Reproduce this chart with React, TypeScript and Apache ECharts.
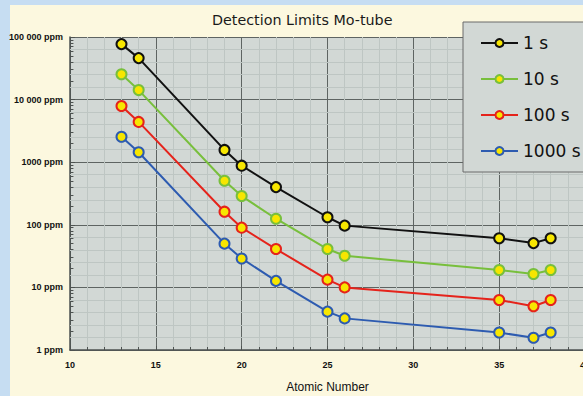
import React, { useEffect, useRef } from "react";
import * as echarts from "echarts";

const atomicNumbers = [13, 14, 19, 20, 22, 25, 26, 35, 37, 38];
const seriesNames = ["1 s", "10 s", "100 s", "1000 s"];
const values1s = [77000, 46000, 1570, 880, 400, 132, 97, 61, 51, 61];
const values10s = [25400, 14200, 505, 288, 125, 41, 32, 19, 16.4, 19];
const values100s = [7900, 4400, 162, 90, 41, 13.3, 10, 6.3, 5.0, 6.3];
const values1000s = [2550, 1440, 50, 29, 12.7, 4.1, 3.2, 1.9, 1.57, 1.9];
const yTickLabels = ["1 ppm", "10 ppm", "100 ppm", "1000 ppm", "10 000 ppm", "100 000 ppm"];
const xTickLabels = ["10", "15", "20", "25", "30", "35", "40"];
const seriesColors = ["#111111", "#78bf3c", "#e5231b", "#2d5bb0"];

export default function App() {
  const ref = useRef<HTMLDivElement>(null);
  useEffect(() => {
    if (!ref.current) return;
    const chart = echarts.init(ref.current, undefined, { renderer: "svg" });
    const allValues = [values1s, values10s, values100s, values1000s];
    const paperVals: number[] = [];
    const tickVals: number[] = [];
    for (let d = 0; d < yTickLabels.length - 1; d++) {
      for (let k = 1; k < 5; k++) paperVals.push(Math.pow(10, d + k / 5));
      for (let m = 2; m <= 9; m++) tickVals.push(m * Math.pow(10, d));
    }
    const dataSeries = allValues.map((vals, i) => ({
      name: seriesNames[i],
      type: "line",
      z: 5,
      data: atomicNumbers.map((x, j) => [x, vals[j]]),
      symbol: "circle",
      symbolSize: 10,
      lineStyle: { color: seriesColors[i], width: 2 },
      itemStyle: { color: "#f7e600", borderColor: seriesColors[i], borderWidth: 2 },
      color: seriesColors[i],
    }));
    chart.setOption({
      animation: false,
      backgroundColor: "transparent",
      title: {
        text: "Detection Limits Mo-tube",
        left: 207,
        top: 8,
        textStyle: { fontFamily: "DejaVu Sans", fontSize: 14.3, fontWeight: "normal", color: "#1a1a1a" },
      },
      legend: {
        data: seriesNames,
        orient: "vertical",
        left: 463,
        top: 22,
        z: 20,
        padding: [11, 40, 11, 17],
        itemGap: 16,
        itemWidth: 37,
        itemHeight: 10,
        backgroundColor: "#d2d8d5",
        borderColor: "#6a6a6a",
        borderWidth: 1,
        textStyle: { fontFamily: "DejaVu Sans", fontSize: 17, color: "#111", lineHeight: 20 },
      },
      grid: {
        left: 70,
        top: 37,
        width: 515,
        height: 313,
        show: true,
        backgroundColor: "#d2d8d5",
        borderWidth: 0,
        outerBoundsMode: "none",
        containLabel: false,
      },
      xAxis: {
        type: "value",
        min: 10,
        max: 40,
        interval: 5,
        name: "Atomic Number",
        nameLocation: "middle",
        nameGap: 31,
        nameTextStyle: { fontFamily: "Liberation Sans", fontSize: 12, color: "#111" },
        axisLine: { show: true, lineStyle: { color: "#4d5250", width: 1.5 } },
        axisTick: { show: true, inside: true, length: 4, lineStyle: { color: "#4d5250" } },
        minorTick: { show: true, splitNumber: 5, length: 3, lineStyle: { color: "#4d5250" } },
        axisLabel: {
          margin: 10,
          fontFamily: "Liberation Sans",
          fontSize: 9,
          fontWeight: "bold",
          color: "#111",
          formatter: (v: number) => xTickLabels[Math.round((v - 10) / 5)] ?? "",
        },
        splitLine: { show: true, lineStyle: { color: "#5e6462", width: 1 } },
        minorSplitLine: { show: true, lineStyle: { color: "#bec6c3", width: 1 } },
      },
      yAxis: {
        type: "log",
        logBase: 10,
        min: 1,
        max: 100000,
        axisLine: { show: true, lineStyle: { color: "#4d5250", width: 1.5 } },
        axisTick: { show: true, inside: true, length: 5, lineStyle: { color: "#4d5250" } },
        axisLabel: {
          margin: 7,
          fontFamily: "Liberation Sans",
          fontSize: 9,
          fontWeight: "bold",
          color: "#111",
          formatter: (v: number) => yTickLabels[Math.round(Math.log10(v))] ?? "",
        },
        splitLine: { show: true, lineStyle: { color: "#5e6462", width: 1 } },
      },
      series: [
        {
          name: "paper",
          type: "line",
          data: [],
          z: 1,
          silent: true,
          markLine: {
            silent: true,
            symbol: "none",
            label: { show: false },
            lineStyle: { color: "#bec6c3", width: 1, type: "solid" },
            data: paperVals.map((v) => ({ yAxis: v })),
          },
        },
        {
          name: "ticks",
          type: "line",
          data: [],
          z: 2,
          silent: true,
          markLine: {
            silent: true,
            symbol: "none",
            label: { show: false },
            lineStyle: { color: "#4d5250", width: 1, type: "solid" },
            data: tickVals.map((v) => [{ coord: [10, v] }, { coord: [10.2, v] }]),
          },
        },
        ...dataSeries,
      ],
    });
    return () => chart.dispose();
  }, []);
  return (
    <div style={{ position: "fixed", left: 0, top: 0, width: 583, height: 396, background: "#c6ddf2", overflow: "hidden" }}>
      <div style={{ position: "absolute", left: 10, top: 5, right: 0, bottom: 0, background: "#fcf8df" }} />
      <div ref={ref} style={{ position: "absolute", left: 0, top: 0, width: 620, height: 396 }} />
    </div>
  );
}
